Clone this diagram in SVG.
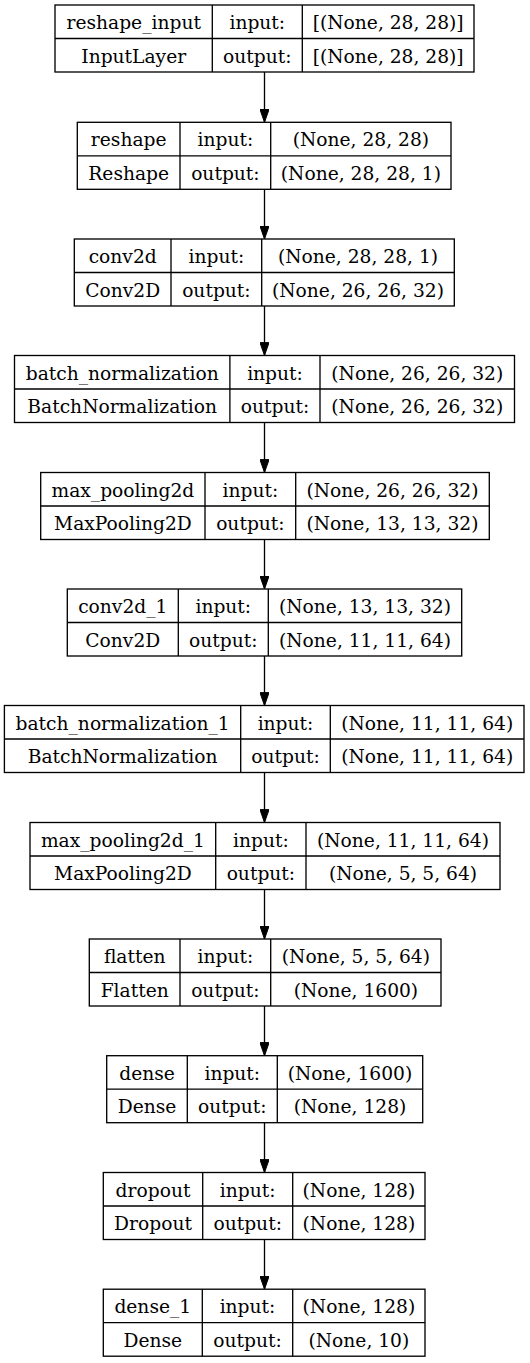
<svg xmlns="http://www.w3.org/2000/svg" width="530" height="1363" viewBox="0 0 530 1363">
<style>
  .bg { fill: #ffffff; }
  .box { fill: #ffffff; stroke: #000000; stroke-width: 1.33; }
  .sep { stroke: #000000; stroke-width: 1.33; }
  .edge { stroke: #000000; stroke-width: 1.33; fill: none; }
  text { font-family: "DejaVu Serif", "Liberation Serif", serif; font-size: 18.67px; text-anchor: middle; fill: #000000; }
</style>
<defs>
  <marker id="arrow" markerUnits="userSpaceOnUse" viewBox="0 0 13.3 9.4" refX="13.3" refY="4.7" markerWidth="13.3" markerHeight="9.4" orient="auto">
    <path d="M0,0 L13.3,4.7 L0,9.4 z" fill="#000000" stroke="#000000" stroke-width="1"/>
  </marker>
</defs>
<rect class="bg" x="0" y="0" width="530" height="1363"/>

<!-- connectors -->
<g id="edges">
  <line class="edge" x1="264.5" y1="72" x2="264.5" y2="122.3" marker-end="url(#arrow)"/>
  <line class="edge" x1="264.5" y1="189.3" x2="264.5" y2="239" marker-end="url(#arrow)"/>
  <line class="edge" x1="264.5" y1="306" x2="264.5" y2="355.5" marker-end="url(#arrow)"/>
  <line class="edge" x1="264.5" y1="422.5" x2="264.5" y2="472.5" marker-end="url(#arrow)"/>
  <line class="edge" x1="264.5" y1="539.5" x2="264.5" y2="589" marker-end="url(#arrow)"/>
  <line class="edge" x1="264.5" y1="656" x2="264.5" y2="705.5" marker-end="url(#arrow)"/>
  <line class="edge" x1="264.5" y1="772.5" x2="264.5" y2="822.5" marker-end="url(#arrow)"/>
  <line class="edge" x1="264.5" y1="889.5" x2="264.5" y2="939" marker-end="url(#arrow)"/>
  <line class="edge" x1="264.5" y1="1006" x2="264.5" y2="1055.7" marker-end="url(#arrow)"/>
  <line class="edge" x1="264.5" y1="1122.7" x2="264.5" y2="1172.5" marker-end="url(#arrow)"/>
  <line class="edge" x1="264.5" y1="1239.5" x2="264.5" y2="1289.2" marker-end="url(#arrow)"/>
</g>

<!-- reshape_input -->
<g id="reshape_input">
  <rect class="box" x="55" y="5" width="419" height="67"/>
  <line class="sep" x1="55" y1="38.5" x2="474" y2="38.5"/>
  <line class="sep" x1="212.3" y1="5" x2="212.3" y2="72"/>
  <line class="sep" x1="302.3" y1="5" x2="302.3" y2="72"/>
  <text x="133.7" y="29">reshape_input</text>
  <text x="257.3" y="29">input:</text>
  <text x="388.2" y="29">[(None, 28, 28)]</text>
  <text x="133.7" y="62.5">InputLayer</text>
  <text x="257.3" y="62.5">output:</text>
  <text x="388.2" y="62.5">[(None, 28, 28)]</text>
</g>

<!-- reshape -->
<g id="reshape">
  <rect class="box" x="77.3" y="122.3" width="373.7" height="67"/>
  <line class="sep" x1="77.3" y1="155.8" x2="451" y2="155.8"/>
  <line class="sep" x1="180" y1="122.3" x2="180" y2="189.3"/>
  <line class="sep" x1="270.7" y1="122.3" x2="270.7" y2="189.3"/>
  <text x="128.7" y="146.3">reshape</text>
  <text x="225.4" y="146.3">input:</text>
  <text x="360.9" y="146.3">(None, 28, 28)</text>
  <text x="128.7" y="179.8">Reshape</text>
  <text x="225.4" y="179.8">output:</text>
  <text x="360.9" y="179.8">(None, 28, 28, 1)</text>
</g>

<!-- conv2d -->
<g id="conv2d">
  <rect class="box" x="74.3" y="239" width="380" height="67"/>
  <line class="sep" x1="74.3" y1="272.5" x2="454.3" y2="272.5"/>
  <line class="sep" x1="171" y1="239" x2="171" y2="306"/>
  <line class="sep" x1="261.7" y1="239" x2="261.7" y2="306"/>
  <text x="122.7" y="263">conv2d</text>
  <text x="216.4" y="263">input:</text>
  <text x="358" y="263">(None, 28, 28, 1)</text>
  <text x="122.7" y="296.5">Conv2D</text>
  <text x="216.4" y="296.5">output:</text>
  <text x="358" y="296.5">(None, 26, 26, 32)</text>
</g>

<!-- batch_normalization -->
<g id="batch_normalization">
  <rect class="box" x="14.5" y="355.5" width="500" height="67"/>
  <line class="sep" x1="14.5" y1="389" x2="514.5" y2="389"/>
  <line class="sep" x1="229.9" y1="355.5" x2="229.9" y2="422.5"/>
  <line class="sep" x1="320" y1="355.5" x2="320" y2="422.5"/>
  <text x="122.2" y="379.5">batch_normalization</text>
  <text x="275" y="379.5">input:</text>
  <text x="417.3" y="379.5">(None, 26, 26, 32)</text>
  <text x="122.2" y="413">BatchNormalization</text>
  <text x="275" y="413">output:</text>
  <text x="417.3" y="413">(None, 26, 26, 32)</text>
</g>

<!-- max_pooling2d -->
<g id="max_pooling2d">
  <rect class="box" x="40.7" y="472.5" width="448.6" height="67"/>
  <line class="sep" x1="40.7" y1="506" x2="489.3" y2="506"/>
  <line class="sep" x1="205" y1="472.5" x2="205" y2="539.5"/>
  <line class="sep" x1="295.7" y1="472.5" x2="295.7" y2="539.5"/>
  <text x="122.9" y="496.5">max_pooling2d</text>
  <text x="250.4" y="496.5">input:</text>
  <text x="392.5" y="496.5">(None, 26, 26, 32)</text>
  <text x="122.9" y="530">MaxPooling2D</text>
  <text x="250.4" y="530">output:</text>
  <text x="392.5" y="530">(None, 13, 13, 32)</text>
</g>

<!-- conv2d_1 -->
<g id="conv2d_1">
  <rect class="box" x="67.3" y="589" width="394.4" height="67"/>
  <line class="sep" x1="67.3" y1="622.5" x2="461.7" y2="622.5"/>
  <line class="sep" x1="178.3" y1="589" x2="178.3" y2="656"/>
  <line class="sep" x1="268.3" y1="589" x2="268.3" y2="656"/>
  <text x="122.8" y="613">conv2d_1</text>
  <text x="223.3" y="613">input:</text>
  <text x="365" y="613">(None, 13, 13, 32)</text>
  <text x="122.8" y="646.5">Conv2D</text>
  <text x="223.3" y="646.5">output:</text>
  <text x="365" y="646.5">(None, 11, 11, 64)</text>
</g>

<!-- batch_normalization_1 -->
<g id="batch_normalization_1">
  <rect class="box" x="4.4" y="705.5" width="519.6" height="67"/>
  <line class="sep" x1="4.4" y1="739" x2="524" y2="739"/>
  <line class="sep" x1="240.7" y1="705.5" x2="240.7" y2="772.5"/>
  <line class="sep" x1="330.3" y1="705.5" x2="330.3" y2="772.5"/>
  <text x="122.6" y="729.5">batch_normalization_1</text>
  <text x="285.5" y="729.5">input:</text>
  <text x="427.2" y="729.5">(None, 11, 11, 64)</text>
  <text x="122.6" y="763">BatchNormalization</text>
  <text x="285.5" y="763">output:</text>
  <text x="427.2" y="763">(None, 11, 11, 64)</text>
</g>

<!-- max_pooling2d_1 -->
<g id="max_pooling2d_1">
  <rect class="box" x="30" y="822.5" width="470" height="67"/>
  <line class="sep" x1="30" y1="856" x2="500" y2="856"/>
  <line class="sep" x1="215.7" y1="822.5" x2="215.7" y2="889.5"/>
  <line class="sep" x1="306" y1="822.5" x2="306" y2="889.5"/>
  <text x="122.9" y="846.5">max_pooling2d_1</text>
  <text x="260.9" y="846.5">input:</text>
  <text x="403" y="846.5">(None, 11, 11, 64)</text>
  <text x="122.9" y="880">MaxPooling2D</text>
  <text x="260.9" y="880">output:</text>
  <text x="403" y="880">(None, 5, 5, 64)</text>
</g>

<!-- flatten -->
<g id="flatten">
  <rect class="box" x="89.3" y="939" width="351.7" height="67"/>
  <line class="sep" x1="89.3" y1="972.5" x2="441" y2="972.5"/>
  <line class="sep" x1="180" y1="939" x2="180" y2="1006"/>
  <line class="sep" x1="270.7" y1="939" x2="270.7" y2="1006"/>
  <text x="134.7" y="963">flatten</text>
  <text x="225.4" y="963">input:</text>
  <text x="355.9" y="963">(None, 5, 5, 64)</text>
  <text x="134.7" y="996.5">Flatten</text>
  <text x="225.4" y="996.5">output:</text>
  <text x="355.9" y="996.5">(None, 1600)</text>
</g>

<!-- dense -->
<g id="dense">
  <rect class="box" x="106.7" y="1055.7" width="316" height="67"/>
  <line class="sep" x1="106.7" y1="1089.2" x2="422.7" y2="1089.2"/>
  <line class="sep" x1="187.3" y1="1055.7" x2="187.3" y2="1122.7"/>
  <line class="sep" x1="277.3" y1="1055.7" x2="277.3" y2="1122.7"/>
  <text x="147" y="1079.7">dense</text>
  <text x="232.3" y="1079.7">input:</text>
  <text x="350" y="1079.7">(None, 1600)</text>
  <text x="147" y="1113.2">Dense</text>
  <text x="232.3" y="1113.2">output:</text>
  <text x="350" y="1113.2">(None, 128)</text>
</g>

<!-- dropout -->
<g id="dropout">
  <rect class="box" x="103.3" y="1172.5" width="321.7" height="67"/>
  <line class="sep" x1="103.3" y1="1206" x2="425" y2="1206"/>
  <line class="sep" x1="202.7" y1="1172.5" x2="202.7" y2="1239.5"/>
  <line class="sep" x1="292.7" y1="1172.5" x2="292.7" y2="1239.5"/>
  <text x="153" y="1196.5">dropout</text>
  <text x="247.7" y="1196.5">input:</text>
  <text x="358.9" y="1196.5">(None, 128)</text>
  <text x="153" y="1230">Dropout</text>
  <text x="247.7" y="1230">output:</text>
  <text x="358.9" y="1230">(None, 128)</text>
</g>

<!-- dense_1 -->
<g id="dense_1">
  <rect class="box" x="103.3" y="1289.2" width="321.7" height="67"/>
  <line class="sep" x1="103.3" y1="1322.7" x2="425" y2="1322.7"/>
  <line class="sep" x1="202.3" y1="1289.2" x2="202.3" y2="1356.2"/>
  <line class="sep" x1="292.7" y1="1289.2" x2="292.7" y2="1356.2"/>
  <text x="152.8" y="1313.2">dense_1</text>
  <text x="247.5" y="1313.2">input:</text>
  <text x="358.9" y="1313.2">(None, 128)</text>
  <text x="152.8" y="1346.7">Dense</text>
  <text x="247.5" y="1346.7">output:</text>
  <text x="358.9" y="1346.7">(None, 10)</text>
</g>
</svg>
